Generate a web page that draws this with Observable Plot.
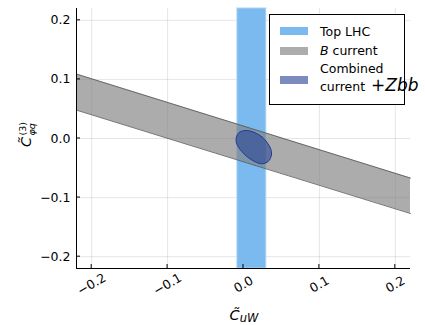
<!DOCTYPE html>
<html>
<head>
<meta charset="utf-8">
<script src="https://cdn.jsdelivr.net/npm/d3@7"></script>
<script src="https://cdn.jsdelivr.net/npm/@observablehq/plot@0.6"></script>
<style>
  html, body { margin: 0; padding: 0; background: #fff; }
  #chart { width: 425px; height: 325px; }
  #chart svg g[aria-label$="tick label"] { font-size: 12.5px; }
</style>
</head>
<body>
<div id="chart"></div>
<script>
// ---- data ----
const xDomain = [-0.22, 0.22];
const yDomain = [-0.22, 0.22];
const xTicks = [-0.2, -0.1, 0.0, 0.1, 0.2];
const yTicks = [-0.2, -0.1, 0.0, 0.1, 0.2];

// Top LHC: vertical band in C_uW
const topLHC = [{lo: -0.008, hi: 0.030}];

// B current: slanted band (edges at the x limits)
const bX = [-0.22, 0.22];
const bUpper = [0.109, -0.067];
const bLower = [0.048, -0.127];

// Combined current + Zbb: ellipse outline points
const ellX = [0.0049, 0.0250, 0.0368, 0.0338, 0.0240, 0.0040, -0.0096, -0.0066];
const ellY = [0.0135, 0.0020, -0.0220, -0.0372, -0.0428, -0.0300, -0.0060, 0.0092];

const legendLabels = ["Top LHC", "B current", "Combined current +Zbb"];
const colors = {top: "#7bbaef", b: "#808080", comb: "#233e93"};

const band = bX.map((x, i) => ({x, lo: bLower[i], hi: bUpper[i]}));
const ell = ellX.map((x, i) => ({x, y: ellY[i]}));

const plot = Plot.plot({
  width: 425,
  height: 325,
  marginLeft: 76,
  marginRight: 15,
  marginTop: 8,
  marginBottom: 57,
  style: {fontFamily: "DejaVu Sans", fontSize: "12.5px", background: "#fff", color: "#000"},
  x: {domain: xDomain},
  y: {domain: yDomain},
  marks: [
    Plot.gridX(xTicks, {stroke: "#000", strokeOpacity: 0.1}),
    Plot.gridY(yTicks, {stroke: "#000", strokeOpacity: 0.1}),
    Plot.rect(topLHC, {x1: "lo", x2: "hi", fill: colors.top, stroke: "#a9d3f6", strokeWidth: 1}),
    Plot.areaY(band, {x: "x", y1: "lo", y2: "hi", fill: colors.b, fillOpacity: 0.65}),
    Plot.line(band, {x: "x", y: "hi", stroke: "#555", strokeWidth: 0.8}),
    Plot.line(band, {x: "x", y: "lo", stroke: "#555", strokeWidth: 0.8}),
    Plot.line(ell, {x: "x", y: "y", curve: "catmull-rom-closed", fill: colors.comb, fillOpacity: 0.55, stroke: "#1f3a9a", strokeWidth: 1}),
    Plot.axisX(xTicks, {tickSize: 0, tickRotate: -30, textAnchor: "middle", tickPadding: 16, tickFormat: d3.format(".1f"), label: null}),
    Plot.axisY(yTicks, {tickSize: 0, tickPadding: 6, tickFormat: d3.format(".1f"), label: null}),
    Plot.ruleX([xDomain[0]], {stroke: "#000", strokeWidth: 1}),
    Plot.ruleY([yDomain[0]], {stroke: "#000", strokeWidth: 1})
  ]
});

document.getElementById("chart").appendChild(plot);

// inward tick marks and axis titles/legend via the plot's own scales
const svg = d3.select(plot);
const sx = plot.scale("x"), sy = plot.scale("y");
const bottom = sy.apply(yDomain[0]), left = sx.apply(xDomain[0]);
const tk = svg.append("g").attr("stroke", "#000").attr("stroke-width", 1);
xTicks.forEach(t => tk.append("line").attr("x1", sx.apply(t)).attr("x2", sx.apply(t)).attr("y1", bottom).attr("y2", bottom - 4));
yTicks.forEach(t => tk.append("line").attr("y1", sy.apply(t)).attr("y2", sy.apply(t)).attr("x1", left).attr("x2", left + 4));

// x axis title: C~_uW
const xt = svg.append("text").attr("x", 244).attr("y", 320).attr("text-anchor", "middle")
  .attr("font-family", "DejaVu Sans").attr("font-style", "italic").attr("font-size", 14.5);
xt.append("tspan").text("C\u0303");
xt.append("tspan").attr("font-size", 11.5).attr("dy", 2).text("uW");

// y axis title: C~^(3)_phi q
const yt = svg.append("g").attr("transform", "translate(31,147) rotate(-90)")
  .attr("font-family", "DejaVu Sans").attr("text-anchor", "start");
yt.append("text").attr("x", 0).attr("y", 0).attr("font-size", 14.5).attr("font-style", "italic").text("C\u0303");
yt.append("text").attr("x", 11.5).attr("y", -5).attr("font-size", 9.5).text("(3)");
yt.append("text").attr("x", 11.5).attr("y", 3.5).attr("font-size", 9.5).attr("font-style", "italic").text("\u03c6q");

// legend
const lg = svg.append("g").attr("font-family", "DejaVu Sans").attr("font-size", 12.5).attr("text-anchor", "start");
lg.append("rect").attr("x", 269.5).attr("y", 14.5).attr("width", 135).attr("height", 90)
  .attr("fill", "#fff").attr("stroke", "#000").attr("stroke-width", 1);
const sw = [
  {y: 27, fill: colors.top, op: 1},
  {y: 47, fill: colors.b, op: 0.65},
  {y: 76, fill: colors.comb, op: 0.6}
];
sw.forEach(s => lg.append("rect").attr("x", 280).attr("y", s.y).attr("width", 28).attr("height", 8)
  .attr("fill", s.fill).attr("fill-opacity", s.op));
lg.append("text").attr("x", 320).attr("y", 35.5).text(legendLabels[0]);
const l2 = lg.append("text").attr("x", 320).attr("y", 55);
l2.append("tspan").attr("font-style", "italic").text(legendLabels[1].split(" ")[0]);
l2.append("tspan").text(" " + legendLabels[1].split(" ")[1]);
lg.append("text").attr("x", 320).attr("y", 73).text(legendLabels[2].split(" ")[0]);
const l3 = lg.append("text").attr("x", 320).attr("y", 90.5);
l3.append("tspan").text(legendLabels[2].split(" ")[1]);
l3.append("tspan").attr("font-size", 17).attr("dx", 6).text("+");
l3.append("tspan").attr("font-size", 17).attr("font-style", "italic").text(legendLabels[2].split(" ")[2].slice(1));
</script>
</body>
</html>
